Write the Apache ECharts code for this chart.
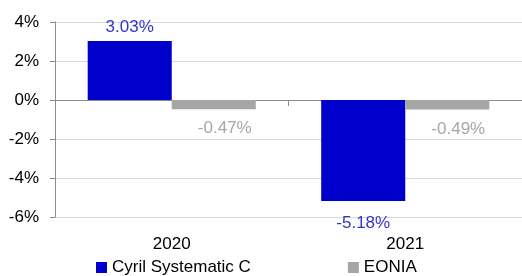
<!DOCTYPE html>
<html><head><meta charset="utf-8">
<script src="https://cdn.jsdelivr.net/npm/echarts@6/dist/echarts.min.js"></script>
<style>html,body{margin:0;padding:0;background:#fff}#c{width:522px;height:276px}</style>
</head><body><div id="c"></div>
<script>
const categories = ['2020', '2021'];
const fundValues = [3.03, -5.18];
const eoniaValues = [-0.47, -0.49];
const seriesNames = ['Cyril Systematic C', 'EONIA'];
const yTicks = [-6, -4, -2, 0, 2, 4];

const font = 'Liberation Sans';
const fs = 17;
const chart = echarts.init(document.getElementById('c'));
chart.setOption({
  animation: false,
  textStyle: { fontFamily: font },
  grid: { left: 55, right: 0, top: 22, bottom: 59 },
  legend: {
    bottom: -5, left: 91, itemGap: 97, itemWidth: 11, itemHeight: 11, itemTextGap: 6,
    icon: 'rect',
    textStyle: { fontSize: fs, color: '#000', fontFamily: font },
    data: seriesNames
  },
  xAxis: [
    {
      type: 'category', data: categories, position: 'bottom',
      axisLine: { show: false, onZero: false }, axisTick: { show: false },
      axisLabel: { fontSize: fs, color: '#000', margin: 19, fontFamily: font }
    },
    {
      type: 'category', data: categories, position: 'bottom',
      axisLine: { show: true, onZero: true, lineStyle: { color: '#8c8c8c', width: 1 } },
      axisTick: { show: true, length: 6, lineStyle: { color: '#8c8c8c' } },
      axisLabel: { show: false }
    }
  ],
  yAxis: {
    type: 'value', min: yTicks[0], max: yTicks[yTicks.length - 1], interval: 2,
    axisLine: { show: true, lineStyle: { color: '#8c8c8c' } },
    axisTick: { show: true, length: 5, lineStyle: { color: '#8c8c8c' } },
    axisLabel: { formatter: v => v + '%', fontSize: fs, color: '#000', margin: 16, fontFamily: font },
    splitLine: { lineStyle: { color: '#d9d9d9', width: 1 } }
  },
  series: [
    {
      name: seriesNames[0], type: 'bar', xAxisIndex: 0,
      data: fundValues.map(v => ({ value: v, label: { distance: v < 0 ? 14 : 5 } })),
      barGap: '0%', barCategoryGap: '28%',
      itemStyle: { color: '#0000cc' },
      label: {
        show: true, formatter: p => p.value.toFixed(2) + '%',
        position: 'outside', color: '#3333cc', fontSize: fs, fontFamily: font
      }
    },
    {
      name: seriesNames[1], type: 'bar', data: eoniaValues, xAxisIndex: 0,
      barGap: '0%', barCategoryGap: '28%',
      itemStyle: { color: '#a6a6a6' },
      label: {
        show: true, formatter: p => p.value.toFixed(2) + '%',
        position: 'bottom', color: '#a6a6a6', fontSize: fs, fontFamily: font, distance: 11, offset: [11, 0]
      }
    }
  ]
});
</script></body></html>
